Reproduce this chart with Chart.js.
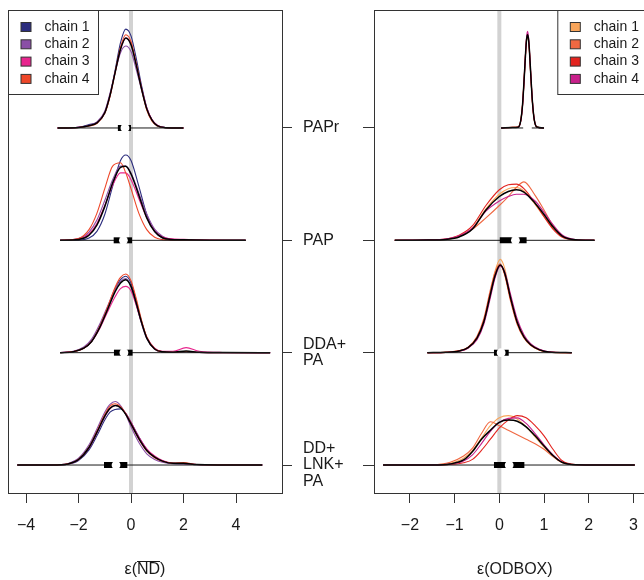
<!DOCTYPE html>
<html><head><meta charset="utf-8">
<script src="https://cdn.jsdelivr.net/npm/chart.js@4.4.1/dist/chart.umd.min.js"></script>
<style>
html,body{margin:0;padding:0;width:644px;height:580px;overflow:hidden;background:#fff;}
#cl{position:absolute;left:0;top:0;}
#cr{position:absolute;left:350px;top:0;}
</style></head><body>
<canvas id="cl" width="360" height="580" style="width:360px;height:580px"></canvas>
<canvas id="cr" width="310" height="580" style="width:310px;height:580px"></canvas>
<script>
// ---------- data ----------
const categories = [["PAPr"], ["PAP"], ["DDA+", "PA"], ["DD+", "LNK+", "PA"]]; // top to bottom
const chainLabels = ["chain 1", "chain 2", "chain 3", "chain 4"];
const ndTicks = [-4, -2, 0, 2, 4];
const odboxTicks = [-2, -1, 0, 1, 2, 3];

// ε(ND) panel: density heights (in row units) per chain, and the pooled (black) density
const ndX_PAPr = [-2.8, -2.0, -1.6, -1.3, -1.0, -0.8, -0.6, -0.4, -0.2, 0.0, 0.2, 0.4, 0.6, 0.8, 1.0, 1.3, 2.0];
const ndChains_PAPr = [
  [0, 0.006, 0.03, 0.05, 0.13, 0.29, 0.52, 0.76, 0.88, 0.82, 0.62, 0.38, 0.18, 0.07, 0.02, 0.003, 0],
  [0, 0.006, 0.025, 0.055, 0.15, 0.31, 0.50, 0.67, 0.73, 0.68, 0.52, 0.34, 0.17, 0.07, 0.025, 0.004, 0],
  [0, 0.005, 0.02, 0.045, 0.135, 0.29, 0.50, 0.70, 0.80, 0.75, 0.57, 0.36, 0.18, 0.075, 0.025, 0.004, 0],
  [0, 0.004, 0.018, 0.04, 0.13, 0.28, 0.50, 0.72, 0.83, 0.77, 0.57, 0.35, 0.16, 0.06, 0.018, 0.002, 0]
];
const ndAll_PAPr = [0, 0.005, 0.02, 0.045, 0.135, 0.29, 0.50, 0.70, 0.80, 0.74, 0.56, 0.35, 0.17, 0.07, 0.02, 0.003, 0];

const ndX_PAP = [-2.7, -2.0, -1.6, -1.3, -1.0, -0.7, -0.4, -0.2, 0.0, 0.3, 0.6, 0.9, 1.2, 1.5, 2.0, 3.0, 4.37];
const ndChains_PAP = [
  [0, 0.002, 0.02, 0.08, 0.23, 0.48, 0.71, 0.76, 0.71, 0.48, 0.23, 0.08, 0.02, 0.004, 0.001, 0, 0],
  [0, 0.016, 0.074, 0.18, 0.355, 0.54, 0.66, 0.66, 0.60, 0.42, 0.235, 0.10, 0.036, 0.01, 0.003, 0, 0],
  [0.001, 0.011, 0.058, 0.15, 0.31, 0.49, 0.60, 0.60, 0.54, 0.37, 0.20, 0.085, 0.03, 0.015, 0.008, 0.002, 0],
  [0, 0.017, 0.095, 0.24, 0.46, 0.66, 0.69, 0.60, 0.46, 0.24, 0.095, 0.027, 0.006, 0.002, 0, 0, 0]
];
const ndAll_PAP = [0, 0.007, 0.045, 0.135, 0.30, 0.51, 0.65, 0.66, 0.59, 0.40, 0.20, 0.078, 0.023, 0.008, 0.004, 0.001, 0];

const ndX_DDA = [-2.7, -2.2, -1.8, -1.5, -1.2, -0.9, -0.6, -0.4, -0.2, 0.0, 0.2, 0.4, 0.6, 0.9, 1.2, 1.6, 2.1, 2.6, 3.5, 5.3];
const ndChains_DDA = [
  [0, 0.008, 0.038, 0.10, 0.225, 0.39, 0.57, 0.65, 0.68, 0.62, 0.46, 0.28, 0.135, 0.034, 0.008, 0.003, 0.008, 0.002, 0, 0],
  [0.001, 0.012, 0.05, 0.12, 0.25, 0.41, 0.57, 0.635, 0.66, 0.59, 0.43, 0.26, 0.125, 0.03, 0.007, 0.003, 0.01, 0.002, 0, 0],
  [0.001, 0.01, 0.04, 0.10, 0.21, 0.36, 0.50, 0.57, 0.59, 0.55, 0.42, 0.27, 0.14, 0.04, 0.012, 0.012, 0.045, 0.012, 0.002, 0],
  [0, 0.009, 0.04, 0.10, 0.23, 0.40, 0.585, 0.67, 0.70, 0.64, 0.48, 0.29, 0.14, 0.035, 0.008, 0.003, 0.01, 0.002, 0, 0]
];
const ndAll_DDA = [0, 0.009, 0.04, 0.10, 0.22, 0.38, 0.545, 0.62, 0.65, 0.59, 0.44, 0.27, 0.13, 0.033, 0.008, 0.004, 0.015, 0.003, 0.001, 0];

const ndX_DD = [-4.33, -3.0, -2.4, -2.0, -1.6, -1.3, -1.0, -0.8, -0.6, -0.4, -0.2, 0.0, 0.3, 0.6, 0.9, 1.2, 1.6, 2.0, 2.5, 3.5, 5.0];
const ndChains_DD = [
  [0, 0, 0.008, 0.04, 0.135, 0.26, 0.40, 0.47, 0.495, 0.50, 0.46, 0.38, 0.25, 0.14, 0.075, 0.035, 0.015, 0.012, 0.005, 0.002, 0.001],
  [0, 0.001, 0.014, 0.06, 0.18, 0.32, 0.47, 0.54, 0.565, 0.53, 0.45, 0.34, 0.2, 0.1, 0.05, 0.025, 0.012, 0.01, 0.003, 0, 0],
  [0, 0, 0.009, 0.047, 0.15, 0.285, 0.43, 0.50, 0.53, 0.515, 0.46, 0.38, 0.25, 0.145, 0.08, 0.04, 0.016, 0.014, 0.004, 0.001, 0],
  [0, 0, 0.01, 0.05, 0.16, 0.30, 0.45, 0.525, 0.545, 0.52, 0.455, 0.365, 0.23, 0.125, 0.065, 0.033, 0.018, 0.022, 0.005, 0.001, 0]
];
const ndAll_DD = [0, 0, 0.01, 0.049, 0.156, 0.29, 0.435, 0.505, 0.53, 0.51, 0.45, 0.366, 0.235, 0.13, 0.07, 0.035, 0.015, 0.015, 0.004, 0.001, 0];

const ndRange = [[-2.78, 1.98], [-2.7, 4.37], [-2.7, 5.3], [-4.33, 5.0]];
const ndInterval = [[-0.5, 0.0], [-0.66, 0.04], [-0.65, 0.06], [-1.03, -0.14]];
const ndMedian = [-0.23, -0.29, -0.27, -0.57];

// ε(ODBOX) panel
const obX_PAPr = [0.04, 0.3, 0.42, 0.48, 0.52, 0.56, 0.59, 0.61, 0.63, 0.65, 0.67, 0.70, 0.74, 0.78, 0.84, 1.0];
const obChains_PAPr = [
  [0, 0.004, 0.008, 0.07, 0.21, 0.46, 0.68, 0.78, 0.82, 0.79, 0.70, 0.50, 0.24, 0.08, 0.01, 0],
  [0, 0.005, 0.007, 0.065, 0.205, 0.47, 0.69, 0.80, 0.83, 0.80, 0.71, 0.49, 0.23, 0.075, 0.008, 0],
  [0, 0.005, 0.008, 0.07, 0.215, 0.48, 0.69, 0.79, 0.82, 0.79, 0.70, 0.49, 0.23, 0.074, 0.007, 0],
  [0, 0.004, 0.006, 0.062, 0.20, 0.46, 0.69, 0.81, 0.86, 0.82, 0.72, 0.51, 0.24, 0.08, 0.009, 0]
];
const obAll_PAPr = [0, 0.005, 0.007, 0.068, 0.21, 0.47, 0.685, 0.79, 0.83, 0.80, 0.71, 0.50, 0.235, 0.077, 0.008, 0];

const obX_PAP = [-2.34, -1.6, -1.2, -0.9, -0.6, -0.3, 0.0, 0.2, 0.38, 0.55, 0.8, 1.0, 1.2, 1.4, 1.7, 2.13];
const obChains_PAP = [
  [0, 0.002, 0.01, 0.035, 0.11, 0.28, 0.41, 0.46, 0.47, 0.44, 0.32, 0.21, 0.11, 0.035, 0.004, 0],
  [0, 0.001, 0.008, 0.035, 0.10, 0.20, 0.31, 0.39, 0.47, 0.52, 0.40, 0.27, 0.13, 0.04, 0.004, 0],
  [0, 0.003, 0.012, 0.045, 0.13, 0.31, 0.45, 0.495, 0.50, 0.46, 0.33, 0.21, 0.10, 0.03, 0.003, 0],
  [0.001, 0.004, 0.012, 0.04, 0.11, 0.26, 0.35, 0.39, 0.41, 0.41, 0.35, 0.25, 0.14, 0.05, 0.008, 0.001]
];
const obAll_PAP = [0, 0.002, 0.008, 0.03, 0.10, 0.27, 0.39, 0.435, 0.45, 0.43, 0.33, 0.23, 0.12, 0.04, 0.005, 0];

const obX_DDA = [-1.61, -1.2, -0.9, -0.7, -0.5, -0.35, -0.2, -0.1, 0.02, 0.12, 0.25, 0.4, 0.55, 0.7, 0.9, 1.1, 1.62];
const obChains_DDA = [
  [0, 0.003, 0.014, 0.042, 0.125, 0.27, 0.54, 0.72, 0.83, 0.75, 0.50, 0.27, 0.135, 0.065, 0.022, 0.005, 0],
  [0, 0.004, 0.018, 0.05, 0.145, 0.30, 0.56, 0.71, 0.79, 0.69, 0.46, 0.25, 0.13, 0.065, 0.022, 0.005, 0],
  [0, 0.003, 0.016, 0.046, 0.135, 0.28, 0.53, 0.69, 0.78, 0.70, 0.48, 0.265, 0.14, 0.07, 0.025, 0.006, 0],
  [0, 0.002, 0.012, 0.04, 0.115, 0.25, 0.49, 0.66, 0.77, 0.72, 0.52, 0.30, 0.16, 0.08, 0.03, 0.008, 0]
];
const obAll_DDA = [0, 0.003, 0.015, 0.045, 0.13, 0.27, 0.52, 0.68, 0.78, 0.71, 0.49, 0.27, 0.14, 0.07, 0.025, 0.006, 0];

const obX_DD = [-2.6, -1.5, -1.1, -0.8, -0.6, -0.4, -0.2, 0.0, 0.2, 0.4, 0.6, 0.8, 1.0, 1.2, 1.4, 1.7, 3.03];
const obChains_DD = [
  [0, 0.002, 0.015, 0.06, 0.13, 0.24, 0.35, 0.42, 0.44, 0.41, 0.34, 0.25, 0.16, 0.08, 0.025, 0.003, 0],
  [0, 0.003, 0.025, 0.08, 0.15, 0.28, 0.385, 0.35, 0.31, 0.27, 0.23, 0.19, 0.14, 0.075, 0.022, 0.003, 0],
  [0, 0, 0.004, 0.02, 0.05, 0.13, 0.23, 0.33, 0.40, 0.44, 0.42, 0.35, 0.26, 0.14, 0.04, 0.004, 0],
  [0, 0.001, 0.008, 0.035, 0.09, 0.19, 0.30, 0.38, 0.415, 0.42, 0.37, 0.28, 0.18, 0.09, 0.028, 0.003, 0]
];
const obAll_DD = [0, 0.001, 0.01, 0.045, 0.12, 0.23, 0.31, 0.38, 0.40, 0.39, 0.34, 0.26, 0.17, 0.085, 0.025, 0.003, 0];

const obRange = [[0.04, 1.0], [-2.34, 2.13], [-1.61, 1.62], [-2.6, 3.03]];
const obInterval = [[0.59, 0.67], [0.01, 0.61], [-0.12, 0.21], [-0.12, 0.56]];
const obMedian = [0.63, 0.36, 0.04, 0.22];

// ---------- styles ----------
const ndColors = ["#2c2d7e", "#8a4fa6", "#e8258e", "#ee4729"];
const obColors = ["#f8a55b", "#f06842", "#e3241f", "#c8208b"];
const FONT = "'Liberation Sans', Arial, Helvetica, sans-serif";
Chart.defaults.font.family = FONT;
Chart.defaults.color = "#1a1a1a";

const rowValue = i => categories.length - i;   // PAPr -> 4, ..., DD+LNK+PA -> 1
const Y_MIN = 0.751, Y_MAX = 5.05;

function buildDatasets(xs, chains, alls, ranges, intervals, medians, colors) {
  const ds = [];
  ds.push({ data: [{x: 0, y: Y_MIN - 1}, {x: 0, y: Y_MAX + 1}], borderColor: "#d2d2d2", borderWidth: 4, pointRadius: 0, order: 100 });
  xs.forEach((xv, i) => {
    const base = rowValue(i);
    chains[i].forEach((vals, c) => {
      ds.push({ data: xv.map((x, k) => ({x, y: base + vals[k]})), borderColor: colors[c], borderWidth: 1.1,
        pointRadius: 0, cubicInterpolationMode: "monotone", order: 60 - c });
    });
    ds.push({ data: xv.map((x, k) => ({x, y: base + alls[i][k]})), borderColor: "#000", borderWidth: 1.5,
      pointRadius: 0, cubicInterpolationMode: "monotone", order: 40 });
    ds.push({ data: ranges[i].map(x => ({x, y: base})), borderColor: "#1a1a1a", borderWidth: 1, pointRadius: 0, order: 30 });
    ds.push({ data: intervals[i].map(x => ({x, y: base})), borderColor: "#000", borderWidth: 6, borderCapStyle: "butt", pointRadius: 0, order: 20 });
    ds.push({ data: [{x: medians[i], y: base}], showLine: false, pointRadius: 4.4, pointBackgroundColor: "#fff",
      pointBorderWidth: 0, pointBorderColor: "#fff", order: 10 });
  });
  return ds;
}

const fmt = v => (v < 0 ? "\u2212" + Math.abs(v) : String(v));

const decor = {
  id: "decor",
  afterDraw(chart, args, opts) {
    const {ctx, chartArea: a} = chart;
    ctx.save();
    ctx.strokeStyle = "#333"; ctx.lineWidth = 1;
    ctx.strokeRect(a.left + 0.5, a.top + 0.5, a.right - a.left, a.bottom - a.top);
    // legend
    const bw = opts.legendWidth, bh = 84;
    const bx = opts.side === "left" ? a.left + 0.5 : opts.legendLeft + 0.5;
    const by = a.top + 0.5;
    ctx.fillStyle = "#fff"; ctx.fillRect(bx, by, bw, bh);
    ctx.strokeRect(bx, by, bw, bh);
    ctx.font = "14px " + FONT; ctx.textBaseline = "middle"; ctx.textAlign = "left";
    chainLabels.forEach((name, i) => {
      const cy = by + 16.5 + i * 17.3;
      ctx.fillStyle = opts.colors[i];
      ctx.fillRect(bx + 12.5, cy - 4.5, 10, 9);
      ctx.strokeStyle = "#333"; ctx.strokeRect(bx + 12.5, cy - 4.5, 10, 9);
      ctx.fillStyle = "#1a1a1a";
      ctx.fillText(name, bx + 36, cy);
    });
    // overline over the named part of the axis title
    if (opts.overline) {
      const xs = chart.scales.x;
      const f = "16px " + FONT;
      ctx.font = f;
      const full = xs.options.title.text;
      const W = ctx.measureText(full).width;
      const pre = ctx.measureText(opts.overline.pre).width;
      const w2 = ctx.measureText(opts.overline.word).width;
      const cx = (xs.left + xs.right) / 2;
      const cy = xs.bottom - 1 - 9.6;
      const x0 = cx - W / 2 + pre;
      ctx.strokeStyle = "#1a1a1a"; ctx.lineWidth = 1;
      ctx.beginPath(); ctx.moveTo(x0, Math.round(cy - 8) + 0.5); ctx.lineTo(x0 + w2, Math.round(cy - 8) + 0.5); ctx.stroke();
    }
    ctx.restore();
  }
};

function makeChart(canvas, datasets, xmin, xmax, xticks, title, yPos, yWidth, yTickLen, showY, padLeft, decorOpts) {
  return new Chart(canvas, {
    type: "line",
    data: {datasets},
    options: {
      responsive: false, animation: false, events: [],
      layout: {padding: {left: padLeft, top: 10, right: 0, bottom: 0}},
      plugins: {legend: {display: false}, tooltip: {enabled: false}, decor: decorOpts},
      scales: {
        x: {
          type: "linear", min: xmin, max: xmax,
          afterBuildTicks: s => { s.ticks = xticks.map(v => ({value: v})); },
          afterFit: s => { s.height = 87; s.paddingLeft = 0; s.paddingRight = 0; },
          grid: {display: true, drawOnChartArea: false, drawTicks: true, tickLength: 10, tickColor: "#333", tickWidth: 1},
          border: {display: false},
          ticks: {callback: v => fmt(v), font: {size: 16}, padding: 13, color: "#1a1a1a", maxRotation: 0, autoSkip: false},
          title: {display: true, text: title, font: {size: 16}, padding: {top: 0, bottom: 1}, color: "#1a1a1a"}
        },
        y: {
          type: "linear", position: yPos, min: Y_MIN, max: Y_MAX,
          afterBuildTicks: s => { s.ticks = categories.map((c, i) => ({value: rowValue(i)})); },
          afterFit: s => { s.width = yWidth; s.paddingTop = 0; s.paddingBottom = 0; },
          grid: {display: true, drawOnChartArea: false, drawTicks: true, tickLength: yTickLen, tickColor: "#333", tickWidth: 1},
          border: {display: false},
          ticks: {display: showY, callback: v => categories[categories.length - v], font: {size: 16, lineHeight: 1.03},
            padding: 11, color: "#1a1a1a", autoSkip: false}
        }
      }
    },
    plugins: [decor]
  });
}

const ndDatasets = buildDatasets(
  [ndX_PAPr, ndX_PAP, ndX_DDA, ndX_DD],
  [ndChains_PAPr, ndChains_PAP, ndChains_DDA, ndChains_DD],
  [ndAll_PAPr, ndAll_PAP, ndAll_DDA, ndAll_DD],
  ndRange, ndInterval, ndMedian, ndColors);
const obDatasets = buildDatasets(
  [obX_PAPr, obX_PAP, obX_DDA, obX_DD],
  [obChains_PAPr, obChains_PAP, obChains_DDA, obChains_DD],
  [obAll_PAPr, obAll_PAP, obAll_DDA, obAll_DD],
  obRange, obInterval, obMedian, obColors);

makeChart(document.getElementById("cl"), ndDatasets, -4.686, 5.752, ndTicks, "\u03b5(ND)", "right", 78, 10, true, 8,
  {side: "left", legendWidth: 90, colors: ndColors, overline: {pre: "\u03b5(", word: "ND"}});
makeChart(document.getElementById("cr"), obDatasets, -2.804, 3.496, odboxTicks, "\u03b5(ODBOX)", "left", 24, 11, false, 0,
  {side: "right", legendWidth: 103, legendLeft: 207.3, colors: obColors, overline: null});
</script>
</body></html>
